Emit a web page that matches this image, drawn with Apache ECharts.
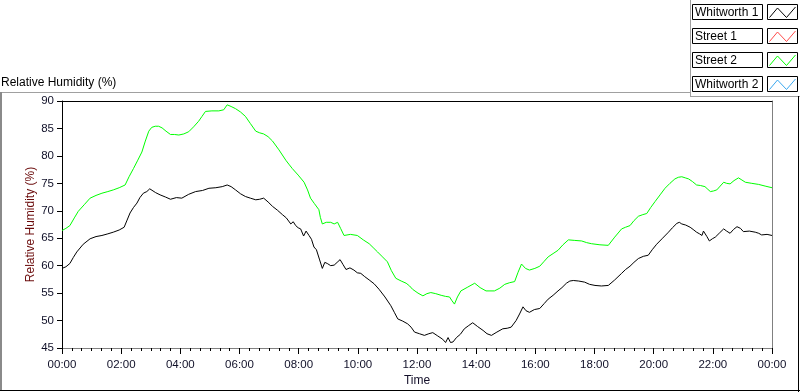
<!DOCTYPE html>
<html>
<head>
<meta charset="utf-8">
<script src="https://cdn.jsdelivr.net/npm/echarts@6/dist/echarts.min.js"></script>
<style>
html,body{margin:0;padding:0;background:#fff;}
#chart{width:800px;height:392px;}
</style>
</head>
<body>
<div id="chart"></div>
<script>
// ---- data (time in minutes since 00:00, relative humidity %) ----
var seriesNames = ['Whitworth 1', 'Street 1', 'Street 2', 'Whitworth 2'];
var seriesColors = ['#000000', '#ff4a4a', '#00ff00', '#3aa8f0'];
var timeTickLabels = ['00:00','02:00','04:00','06:00','08:00','10:00','12:00','14:00','16:00','18:00','20:00','22:00','00:00'];
var yTickValues = [45, 50, 55, 60, 65, 70, 75, 80, 85, 90];

var whitworth1 = [
  [0,59.5],[8,59.8],[16,60.4],[23,61.5],[30,62.5],[43,63.9],[57,64.9],[69,65.3],[81,65.5],[93,65.8],[104,66.1],[116,66.5],[126,67.0],
  [132,68.3],[138,69.6],[145,70.6],[152,71.4],[158,72.4],[165,73.2],[172,73.5],[178,74.0],[182,73.8],[190,73.3],[199,72.9],[210,72.5],
  [220,72.1],[232,72.4],[243,72.3],[257,73.0],[271,73.5],[285,73.7],[298,74.1],[312,74.2],[325,74.4],[335,74.7],[343,74.4],[352,73.8],
  [362,73.1],[372,72.6],[382,72.3],[393,72.0],[401,72.1],[409,72.3],[418,71.6],[427,70.8],[437,70.1],[447,69.3],[455,68.7],[464,67.6],
  [469,68.0],[474,67.3],[479,66.9],[484,66.7],[490,65.4],[495,66.3],[501,65.5],[506,64.8],[511,63.4],[516,62.9],[522,61.2],[528,59.5],
  [533,60.6],[538,60.4],[545,60.0],[552,60.1],[558,60.6],[564,61.1],[570,60.2],[576,59.3],[584,59.6],[592,59.2],[599,58.7],[606,58.6],
  [614,58.0],[623,57.4],[633,56.7],[643,55.7],[655,54.3],[667,52.7],[674,51.5],[681,50.3],[691,49.9],[701,49.4],[708,48.8],[715,47.9],
  [725,47.6],[735,47.3],[744,47.6],[752,47.8],[762,47.2],[772,46.6],[778,46.0],[783,46.9],[788,46.0],[793,46.1],[800,46.9],[808,47.5],
  [816,48.5],[825,49.1],[833,49.6],[843,48.9],[854,48.2],[862,47.6],[871,47.3],[882,47.9],[894,48.5],[903,48.6],[911,48.8],[921,50.0],
  [928,51.2],[935,52.5],[941,51.8],[948,51.5],[958,52.0],[969,52.2],[978,53.1],[986,53.9],[996,54.6],[1006,55.4],[1014,56.0],[1023,56.8],
  [1030,57.2],[1037,57.3],[1048,57.2],[1060,57.0],[1070,56.6],[1081,56.4],[1094,56.3],[1108,56.4],[1121,57.4],[1135,58.6],[1143,59.3],
  [1152,59.9],[1160,60.6],[1169,61.3],[1179,61.7],[1189,61.9],[1197,62.9],[1206,63.9],[1218,65.0],[1230,66.1],[1238,66.9],[1247,67.7],
  [1252,67.9],[1257,67.6],[1265,67.4],[1274,67.0],[1280,66.6],[1287,66.1],[1293,65.8],[1298,65.5],[1301,66.3],[1304,66.4],[1308,65.3],
  [1313,64.5],[1319,64.9],[1325,65.2],[1334,66.0],[1342,66.7],[1348,66.3],[1355,65.9],[1362,66.6],[1369,67.1],[1376,66.8],[1382,66.2],
  [1394,66.3],[1406,66.1],[1413,65.9],[1419,65.6],[1430,65.7],[1440,65.5]
];
var street1 = [];
var street2 = [
  [0,66.4],[8,66.8],[16,67.3],[25,68.7],[33,69.9],[45,71.1],[57,72.3],[69,72.8],[81,73.2],[93,73.5],[104,73.8],[116,74.2],[128,74.7],
  [136,76.2],[145,77.7],[153,79.1],[162,80.7],[169,82.7],[176,84.5],[182,85.2],[189,85.4],[196,85.4],[203,85.1],[211,84.5],[220,83.9],
  [228,83.9],[237,83.8],[247,84.0],[257,84.4],[267,85.3],[277,86.3],[284,87.2],[291,88.1],[304,88.2],[318,88.2],[328,88.4],[335,89.3],
  [343,89.0],[352,88.6],[362,88.0],[372,87.2],[382,85.9],[393,84.5],[401,84.2],[409,84.0],[418,83.5],[427,82.7],[440,81.1],[454,79.2],
  [460,78.5],[467,77.7],[479,76.5],[491,75.2],[498,73.8],[504,72.3],[512,71.3],[521,70.2],[524,68.8],[528,67.6],[536,67.9],[545,67.9],
  [552,67.6],[559,67.9],[565,66.8],[572,65.5],[585,65.7],[599,65.5],[611,64.7],[623,64.0],[631,63.3],[640,62.5],[650,61.6],[660,60.7],
  [668,59.1],[677,57.7],[688,57.2],[698,56.8],[705,56.3],[711,55.7],[722,55.0],[732,54.5],[740,54.9],[748,55.1],[758,54.9],[769,54.6],
  [778,54.4],[786,54.3],[791,53.6],[796,53.0],[802,54.3],[809,55.4],[823,56.1],[837,56.8],[848,56.0],[860,55.4],[868,55.4],[877,55.4],
  [888,55.9],[898,56.6],[908,56.9],[918,57.1],[925,58.8],[932,60.3],[940,59.5],[948,59.2],[959,59.5],[969,59.9],[978,60.8],[986,61.6],
  [996,62.2],[1006,62.8],[1016,63.8],[1027,64.7],[1040,64.6],[1054,64.5],[1064,64.2],[1074,64.0],[1091,63.8],[1108,63.7],[1121,65.2],
  [1135,66.7],[1143,67.0],[1152,67.3],[1160,68.2],[1169,69.0],[1178,69.3],[1186,69.5],[1194,70.6],[1203,71.7],[1213,72.9],[1223,74.1],
  [1233,75.0],[1243,75.8],[1250,76.1],[1257,76.2],[1264,76.0],[1271,75.8],[1279,75.3],[1287,74.7],[1295,74.6],[1304,74.4],[1310,73.9],
  [1315,73.5],[1321,73.6],[1328,73.8],[1335,74.5],[1342,75.2],[1348,75.0],[1355,74.9],[1363,75.5],[1372,76.0],[1379,75.6],[1386,75.2],
  [1399,75.0],[1413,74.8],[1426,74.5],[1440,74.2]
];
var whitworth2 = [];
var seriesData = [whitworth1, street1, street2, whitworth2];

var FONT = '"Liberation Sans", Arial, sans-serif';
var TICK_COLOR = '#101028';

var chart = echarts.init(document.getElementById('chart'), null, {renderer: 'canvas'});

var series = seriesNames.map(function (name, i) {
  return {
    name: name,
    type: 'line',
    data: seriesData[i],
    showSymbol: false,
    symbol: 'none',
    animation: false,
    lineStyle: {color: seriesColors[i], width: 1},
    itemStyle: {color: seriesColors[i]},
    xAxisIndex: 0,
    yAxisIndex: 0
  };
});

// legend drawn as boxes (LabVIEW style)
var legendGraphics = [];
seriesNames.forEach(function (name, i) {
  var y0 = 4 + 24 * i;
  legendGraphics.push({
    type: 'rect', shape: {x: 692.5, y: y0 + 0.5, width: 70, height: 15},
    style: {fill: '#fff', stroke: '#000', lineWidth: 1}, silent: true
  });
  legendGraphics.push({
    type: 'text', x: 695, y: y0 + 8.5,
    style: {text: name, font: '12px ' + FONT, fill: '#000', textVerticalAlign: 'middle', textAlign: 'left'}, silent: true
  });
  legendGraphics.push({
    type: 'rect', shape: {x: 767.5, y: y0 + 0.5, width: 30, height: 15},
    style: {fill: '#fff', stroke: '#000', lineWidth: 1}, silent: true
  });
  legendGraphics.push({
    type: 'polyline', shape: {points: [[769.5, y0 + 13.5], [777.5, y0 + 4], [786.5, y0 + 13.5], [795.5, y0 + 3]]},
    style: {stroke: seriesColors[i], lineWidth: 1, fill: null}, silent: true
  });
});

var frameGraphics = [
  {type: 'line', shape: {x1: 0, y1: 92.5, x2: 690, y2: 92.5}, style: {stroke: '#a0a0a0', lineWidth: 1}, silent: true},
  {type: 'line', shape: {x1: 690.5, y1: 0, x2: 690.5, y2: 96}, style: {stroke: '#a0a0a0', lineWidth: 1}, silent: true},
  {type: 'line', shape: {x1: 690, y1: 96.5, x2: 800, y2: 96.5}, style: {stroke: '#a0a0a0', lineWidth: 1}, silent: true},
  {type: 'line', shape: {x1: 1, y1: 92, x2: 1, y2: 391}, style: {stroke: '#8a8a8a', lineWidth: 2}, silent: true},
  {type: 'line', shape: {x1: 0, y1: 390.5, x2: 800, y2: 390.5}, style: {stroke: '#000', lineWidth: 1}, silent: true},
  {type: 'line', shape: {x1: 798.5, y1: 96, x2: 798.5, y2: 392}, style: {stroke: '#000', lineWidth: 1}, silent: true}
];

var option = {
  backgroundColor: '#ffffff',
  animation: false,
  title: {
    text: 'Relative Humidity (%)',
    left: 1, top: 77, padding: 0,
    textStyle: {fontFamily: FONT, fontSize: 12, fontWeight: 'normal', color: '#000'}
  },
  grid: {left: 62, top: 101, right: 28, bottom: 39, containLabel: false},
  xAxis: [{
    type: 'value', min: 0, max: 1440, interval: 120,
    name: 'Time', nameLocation: 'middle', nameGap: 27, nameMoveOverlap: false,
    nameTextStyle: {fontFamily: FONT, fontSize: 12, color: '#14102a'},
    axisLine: {show: true, lineStyle: {color: '#808080', width: 1}},
    axisTick: {show: true, length: 6, lineStyle: {color: '#000'}},
    minorTick: {show: true, splitNumber: 6, length: 3, lineStyle: {color: '#000'}},
    splitLine: {show: false},
    axisLabel: {
      fontFamily: FONT, fontSize: 11.5, color: TICK_COLOR, margin: 11,
      formatter: function (v) { return timeTickLabels[Math.round(v / 120)]; }
    }
  }, {
    type: 'value', min: 0, max: 1440, position: 'top',
    axisLine: {show: true, onZero: false, lineStyle: {color: '#000', width: 1}},
    axisTick: {show: false}, axisLabel: {show: false}, splitLine: {show: false}
  }],
  yAxis: [{
    type: 'value', min: yTickValues[0], max: yTickValues[yTickValues.length - 1], interval: 5,
    name: 'Relative Humidity (%)', nameLocation: 'middle', nameGap: 25, nameMoveOverlap: false,
    nameTextStyle: {fontFamily: FONT, fontSize: 12, color: '#6a0a0a'},
    axisLine: {show: true, lineStyle: {color: '#000', width: 1}},
    axisTick: {show: true, length: 5, lineStyle: {color: '#000'}},
    splitLine: {show: false},
    axisLabel: {fontFamily: FONT, fontSize: 11.5, color: TICK_COLOR, margin: 8}
  }, {
    type: 'value', min: yTickValues[0], max: yTickValues[yTickValues.length - 1], position: 'right',
    axisLine: {show: true, onZero: false, lineStyle: {color: '#808080', width: 1}},
    axisTick: {show: false}, axisLabel: {show: false}, splitLine: {show: false}
  }],
  series: series,
  graphic: frameGraphics.concat(legendGraphics)
};

chart.setOption(option);
</script>
</body>
</html>
